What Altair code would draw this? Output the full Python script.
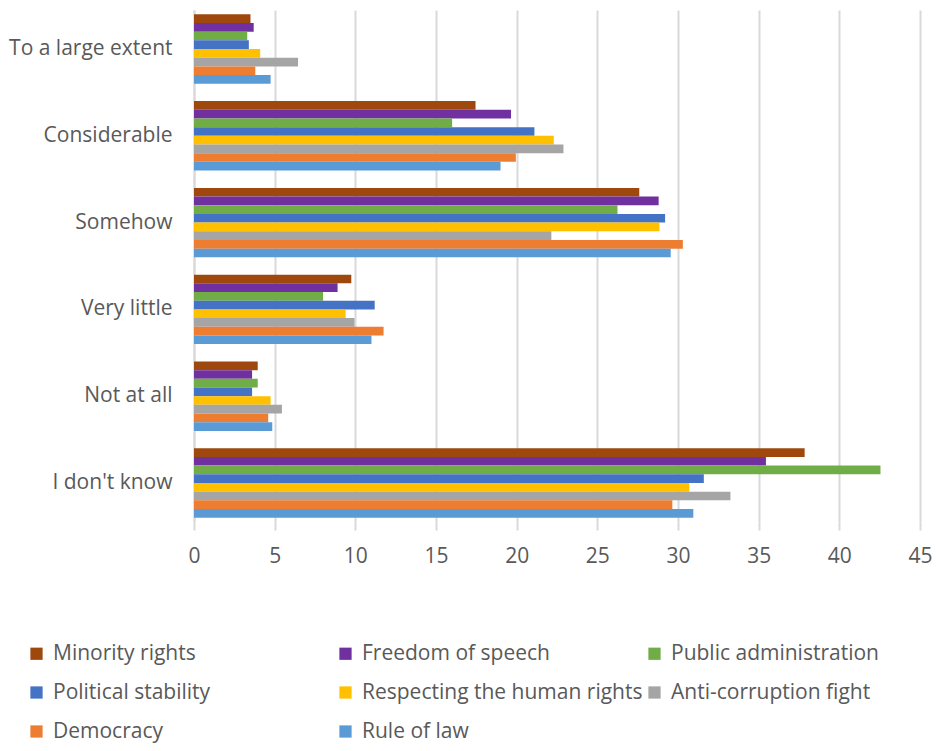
import altair as alt
import pandas as pd

categories = ["To a large extent", "Considerable", "Somehow", "Very little", "Not at all", "I don't know"]
series = ["Minority rights", "Freedom of speech", "Public administration", "Political stability",
          "Respecting the human rights", "Anti-corruption fight", "Democracy", "Rule of law"]
colors = ["#9E480E", "#7030A0", "#70AD47", "#4472C4", "#FFC000", "#A5A5A5", "#ED7D31", "#5B9BD5"]

minority_rights = [3.5, 17.45, 27.6, 9.75, 3.95, 37.85]
freedom_of_speech = [3.7, 19.65, 28.8, 8.9, 3.6, 35.45]
public_administration = [3.3, 16.0, 26.25, 8.0, 3.95, 42.55]
political_stability = [3.4, 21.1, 29.2, 11.2, 3.6, 31.6]
respecting_human_rights = [4.1, 22.3, 28.85, 9.4, 4.75, 30.7]
anti_corruption = [6.45, 22.9, 22.15, 9.95, 5.45, 33.25]
democracy = [3.8, 19.95, 30.3, 11.75, 4.6, 29.65]
rule_of_law = [4.75, 19.0, 29.55, 11.0, 4.85, 30.95]

all_values = [minority_rights, freedom_of_speech, public_administration, political_stability,
              respecting_human_rights, anti_corruption, democracy, rule_of_law]

rows = []
for s, vals in zip(series, all_values):
    for c, v in zip(categories, vals):
        rows.append({"category": c, "series": s, "value": v})
df = pd.DataFrame(rows)

FONT = "Open Sans"
TXT = "#595959"
FS = 21

chart = alt.Chart(df).mark_bar().encode(
    y=alt.Y("category:N", sort=categories, title=None,
            scale=alt.Scale(paddingInner=0.2, paddingOuter=0.05),
            axis=alt.Axis(labelFontSize=FS, labelColor=TXT, labelFont=FONT, labelPadding=22,
                          ticks=False, domainColor="#D9D9D9", domainWidth=2, grid=False)),
    yOffset=alt.YOffset("series:N", sort=series, scale=alt.Scale(paddingInner=0, paddingOuter=0)),
    x=alt.X("value:Q", title=None,
            scale=alt.Scale(domain=[0, 45], nice=False),
            axis=alt.Axis(values=list(range(0, 46, 5)), labelFontSize=FS, labelColor=TXT, labelFont=FONT,
                          labelFlush=False, labelPadding=15, tickSize=8, tickColor="#D9D9D9", tickWidth=2,
                          gridColor="#D9D9D9", gridWidth=2, domain=False)),
    color=alt.Color("series:N", sort=series, scale=alt.Scale(domain=series, range=colors),
                    legend=alt.Legend(title=None, orient="none", legendX=-168, legendY=633,
                                      direction="horizontal",
                                      columns=3, gridAlign="all", columnPadding=1, rowPadding=17,
                                      symbolType="square", symbolSize=150, symbolStrokeWidth=0,
                                      labelFontSize=FS, labelColor=TXT, labelFont=FONT, labelOffset=6,
                                      labelLimit=400, symbolOpacity=1)),
).properties(
    width=726, height=512,
    padding={"left": 186, "top": 2, "right": 13, "bottom": 221},
    autosize=alt.AutoSizeParams(type="none"),
).configure_view(stroke=None)

chart.save("out.html", embed_options={"renderer": "svg", "actions": False})
